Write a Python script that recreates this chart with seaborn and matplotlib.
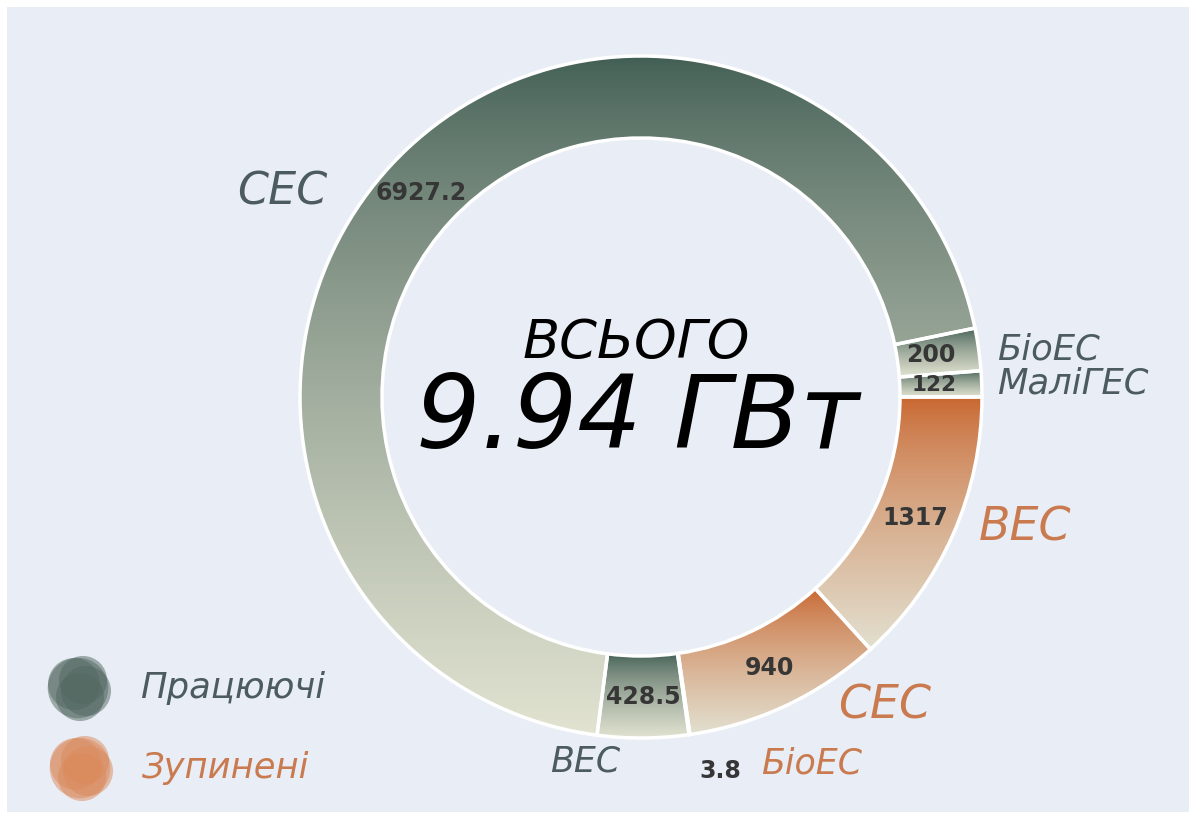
import numpy as np
import seaborn as sns
import matplotlib.pyplot as plt
from matplotlib.patches import Rectangle

# --- DATA ---
segments = ["ВЕС", "СЕС", "БіоЕС", "ВЕС", "СЕС", "БіоЕС", "МаліГЕС"]
capacity_mw = [1317, 940, 3.8, 428.5, 6927.2, 200, 122]
status = ["stopped", "stopped", "stopped", "working", "working", "working", "working"]
value_labels = ["1317", "940", "3.8", "428.5", "6927.2", "200", "122"]
total_label = "9.94 ГВт"
legend_labels = ["Працюючі", "Зупинені"]

# --- STYLE ---
W, H = 1196, 819
BG = "#e9edf5"
TOP_COL = {"working": "#3e5b51", "stopped": "#c8632b"}
BOT_COL = {"working": "#e2e3d1", "stopped": "#e2dfcf"}
TXT_COL = {"working": "#4b5b5f", "stopped": "#c97a4e"}
VAL_COL = "#363636"
FONT = ["DejaVu Sans"]

sns.set_theme(style="white")
plt.rcParams["font.family"] = FONT

fig = plt.figure(figsize=(W / 100, H / 100), dpi=100, facecolor="white")
ax = fig.add_axes([0, 0, 1, 1])
ax.set_xlim(0, W)
ax.set_ylim(0, H)
ax.axis("off")


def px(x, y):
    # pixel position (from top-left) -> data coords
    return x, H - y


ax.add_patch(Rectangle(px(7, 812), W - 14, 805, facecolor=BG, edgecolor="none", zorder=0))

cx, cy = px(641, 397)
R = 341
RING = 82

wedges, _ = ax.pie(
    capacity_mw,
    center=(cx, cy),
    radius=R,
    startangle=0,
    counterclock=False,
    colors=[BOT_COL[s] for s in status],
    wedgeprops=dict(width=RING, edgecolor="white", linewidth=2.5),
    frame=True,
)

# vertical gradient inside each wedge (lightens a bit faster than linear)
for w, s in zip(wedges, status):
    v = w.get_path().vertices[:-1]   # last vertex is the CLOSEPOLY point (centre)
    x0, x1 = v[:, 0].min(), v[:, 0].max()
    y0, y1 = v[:, 1].min(), v[:, 1].max()
    pal = np.array(sns.blend_palette([TOP_COL[s], BOT_COL[s]], n_colors=256))
    t = np.linspace(0, 1, 256) ** 0.72          # 0 = top, 1 = bottom
    grad = pal[(t * 255).astype(int)][::-1][:, None, :]
    im = ax.imshow(grad, extent=[x0, x1, y0, y1], origin="lower",
                   aspect="auto", zorder=1, interpolation="bilinear")
    im.set_clip_path(w)
    w.set_zorder(2)
    w.set_facecolor("none")

# values in the ring, at wedge mid angle
for w, lab in zip(wedges, value_labels):
    if lab == "3.8":
        continue
    ang = np.deg2rad((w.theta1 + w.theta2) / 2)
    r = R - RING / 2
    fs = 15.5 if lab == "122" else 17
    ax.text(cx + r * np.cos(ang) - (7 if lab in ("200", "122") else 0),
            cy + r * np.sin(ang), lab, ha="center", va="center",
            fontsize=fs, fontweight="bold", color=VAL_COL, zorder=3)

ax.text(*px(720, 771), "3.8", ha="center", va="center", fontsize=17,
        fontweight="bold", color=VAL_COL)

# category names around the ring
name_pos = [
    (px(979, 528), "left", 33),    # ВЕС stopped
    (px(838, 706), "left", 33),    # СЕС stopped
    (px(761, 763), "left", 25),    # БіоЕС stopped
    (px(585, 761), "center", 25),  # ВЕС working
    (px(282, 192), "center", 32),  # СЕС working
    (px(997, 350), "left", 25.5),  # БіоЕС working
    (px(997, 383), "left", 25.5),  # МаліГЕС
]
for name, s, (xy, ha, fs) in zip(segments, status, name_pos):
    ax.text(*xy, name, ha=ha, va="center", fontsize=fs, style="italic",
            color=TXT_COL[s])

# centre text
ax.text(*px(636, 358), "ВСЬОГО", ha="center", va="baseline", fontsize=39,
        style="italic", color="black")
ax.text(*px(638, 448), total_label, ha="center", va="baseline", fontsize=73,
        style="italic", color="black")

# legend blobs
for (bx, by), s, lab in zip([px(80, 688), px(82, 768)], ["working", "stopped"], legend_labels):
    blob = "#526861" if s == "working" else "#db8a5c"
    rng = [(-6, 4, 1400), (6, -3, 1300), (0, -9, 1200), (3, 8, 1200), (-2, 0, 1900)]
    for dx, dy, sz in rng:
        ax.scatter(bx + dx, by + dy, s=sz, color=blob, alpha=0.5, edgecolors="none", zorder=2)
    ax.text(bx + 60, by, lab, ha="left", va="center", fontsize=25.5, style="italic",
            color=TXT_COL[s])

ax.set_xlim(0, W)
ax.set_ylim(0, H)
ax.set_aspect("equal")
ax.axis("off")
fig.savefig("out.png", dpi=100, facecolor="white")
